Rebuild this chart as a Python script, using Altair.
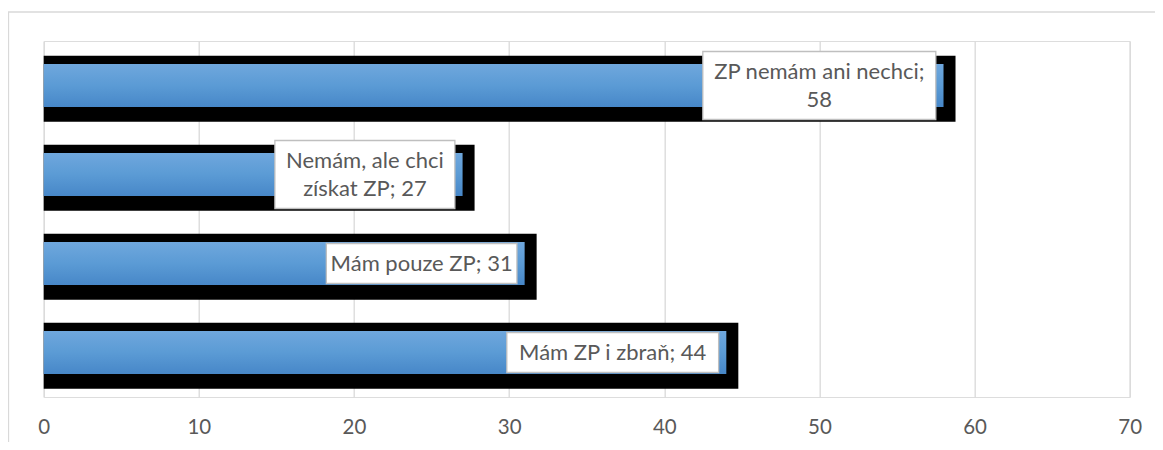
import altair as alt
import pandas as pd

# ---- data ----
categories = ["ZP nemám ani nechci", "Nemám, ale chci získat ZP", "Mám pouze ZP", "Mám ZP i zbraň"]
values = [58, 27, 31, 44]
label_texts = ["ZP nemám ani nechci;\n58", "Nemám, ale chci\nzískat ZP; 27", "Mám pouze ZP; 31", "Mám ZP i zbraň; 44"]
x_ticks = [0, 10, 20, 30, 40, 50, 60, 70]

# ---- layout / style ----
W, H = 1086, 356
X_MAX = 70
PX_PER_UNIT = W / X_MAX
FONT = "Lato"
TEXT_COLOR = "#595959"
GRID_COLOR = "#d9d9d9"
CHAR_W, BOX_PAD = 10.6, 21  # label box width estimate from characters
LABEL_GAP = -7.7            # label box sits inside the bar end
LINE_H = 28

df = pd.DataFrame({"cat": categories, "value": values, "label": label_texts})
df["zero"] = 0
df["lines"] = df["label"].str.count("\n") + 1
df["chars"] = df["label"].apply(lambda s: max(len(p) for p in s.split("\n")))

base = alt.Chart(df).transform_calculate(
    left=f"datum.value - (datum.chars * {CHAR_W} + {BOX_PAD}) / {PX_PER_UNIT}",
).transform_calculate(
    mid="(datum.left + datum.value) / 2"
)

xscale = alt.Scale(domain=[0, X_MAX], nice=False, zero=True)
yscale = alt.Scale(domain=categories, paddingInner=0, paddingOuter=0)
xaxis = alt.Axis(values=x_ticks, grid=True, gridColor=GRID_COLOR, gridWidth=1.3,
                 domain=False, ticks=False, labelColor=TEXT_COLOR, labelFont=FONT,
                 labelFontSize=20.5, labelPadding=21, title=None, labelFlush=False)
y_enc = alt.Y("cat:N", scale=yscale, axis=None, sort=categories)

frame = alt.Chart(df).mark_rect(fillOpacity=0, stroke=GRID_COLOR, strokeWidth=1.3).encode(
    x=alt.value(-35.2), x2=alt.value(1400), y=alt.value(-29), y2=alt.value(600)
).transform_filter("datum.cat == '%s'" % categories[0])

shadow = base.mark_bar(color="black", yOffset=3.3, x2Offset=12).encode(
    x=alt.X("zero:Q", scale=xscale, axis=xaxis),
    x2="value:Q",
    y=y_enc,
    size=alt.value(66),
)

blue = base.mark_bar(
    color=alt.Gradient(
        gradient="linear", x1=0, x2=0, y1=0, y2=1,
        stops=[alt.GradientStop(color="#6fa7dd", offset=0),
               alt.GradientStop(color="#5b9bd5", offset=0.5),
               alt.GradientStop(color="#4787c8", offset=1)],
    )
).encode(
    x=alt.X("zero:Q", scale=xscale),
    x2="value:Q",
    y=y_enc,
    size=alt.value(43),
)

box = base.mark_bar(fill="white", stroke="#bfbfbf", strokeWidth=1.3,
                    xOffset=LABEL_GAP, x2Offset=LABEL_GAP).encode(
    x=alt.X("left:Q", scale=xscale),
    x2="value:Q",
    y=y_enc,
    size=alt.Size("lines:Q", scale=alt.Scale(domain=[1, 2], range=[40, 68], zero=False), legend=None),
)

def text_layer(n_lines):
    return base.transform_filter(f"datum.lines == {n_lines}").mark_text(
        font=FONT, fontSize=22, color=TEXT_COLOR, lineBreak="\n",
        lineHeight=LINE_H, baseline="middle", align="center",
        xOffset=LABEL_GAP, dy=-(n_lines - 1) * LINE_H / 2 + 0.5,
    ).encode(
        x=alt.X("mid:Q", scale=xscale),
        y=y_enc,
        text="label:N",
    )

chart = alt.layer(frame, shadow, blue, box, text_layer(1), text_layer(2)).properties(
    width=W, height=H,
    autosize=alt.AutoSizeParams(type="none"),
    padding={"left": 35.7, "top": 33, "right": 25, "bottom": 45},
).configure_view(stroke=None).configure(background="white")

chart.save("out.html", embed_options={"renderer": "svg", "actions": False})
